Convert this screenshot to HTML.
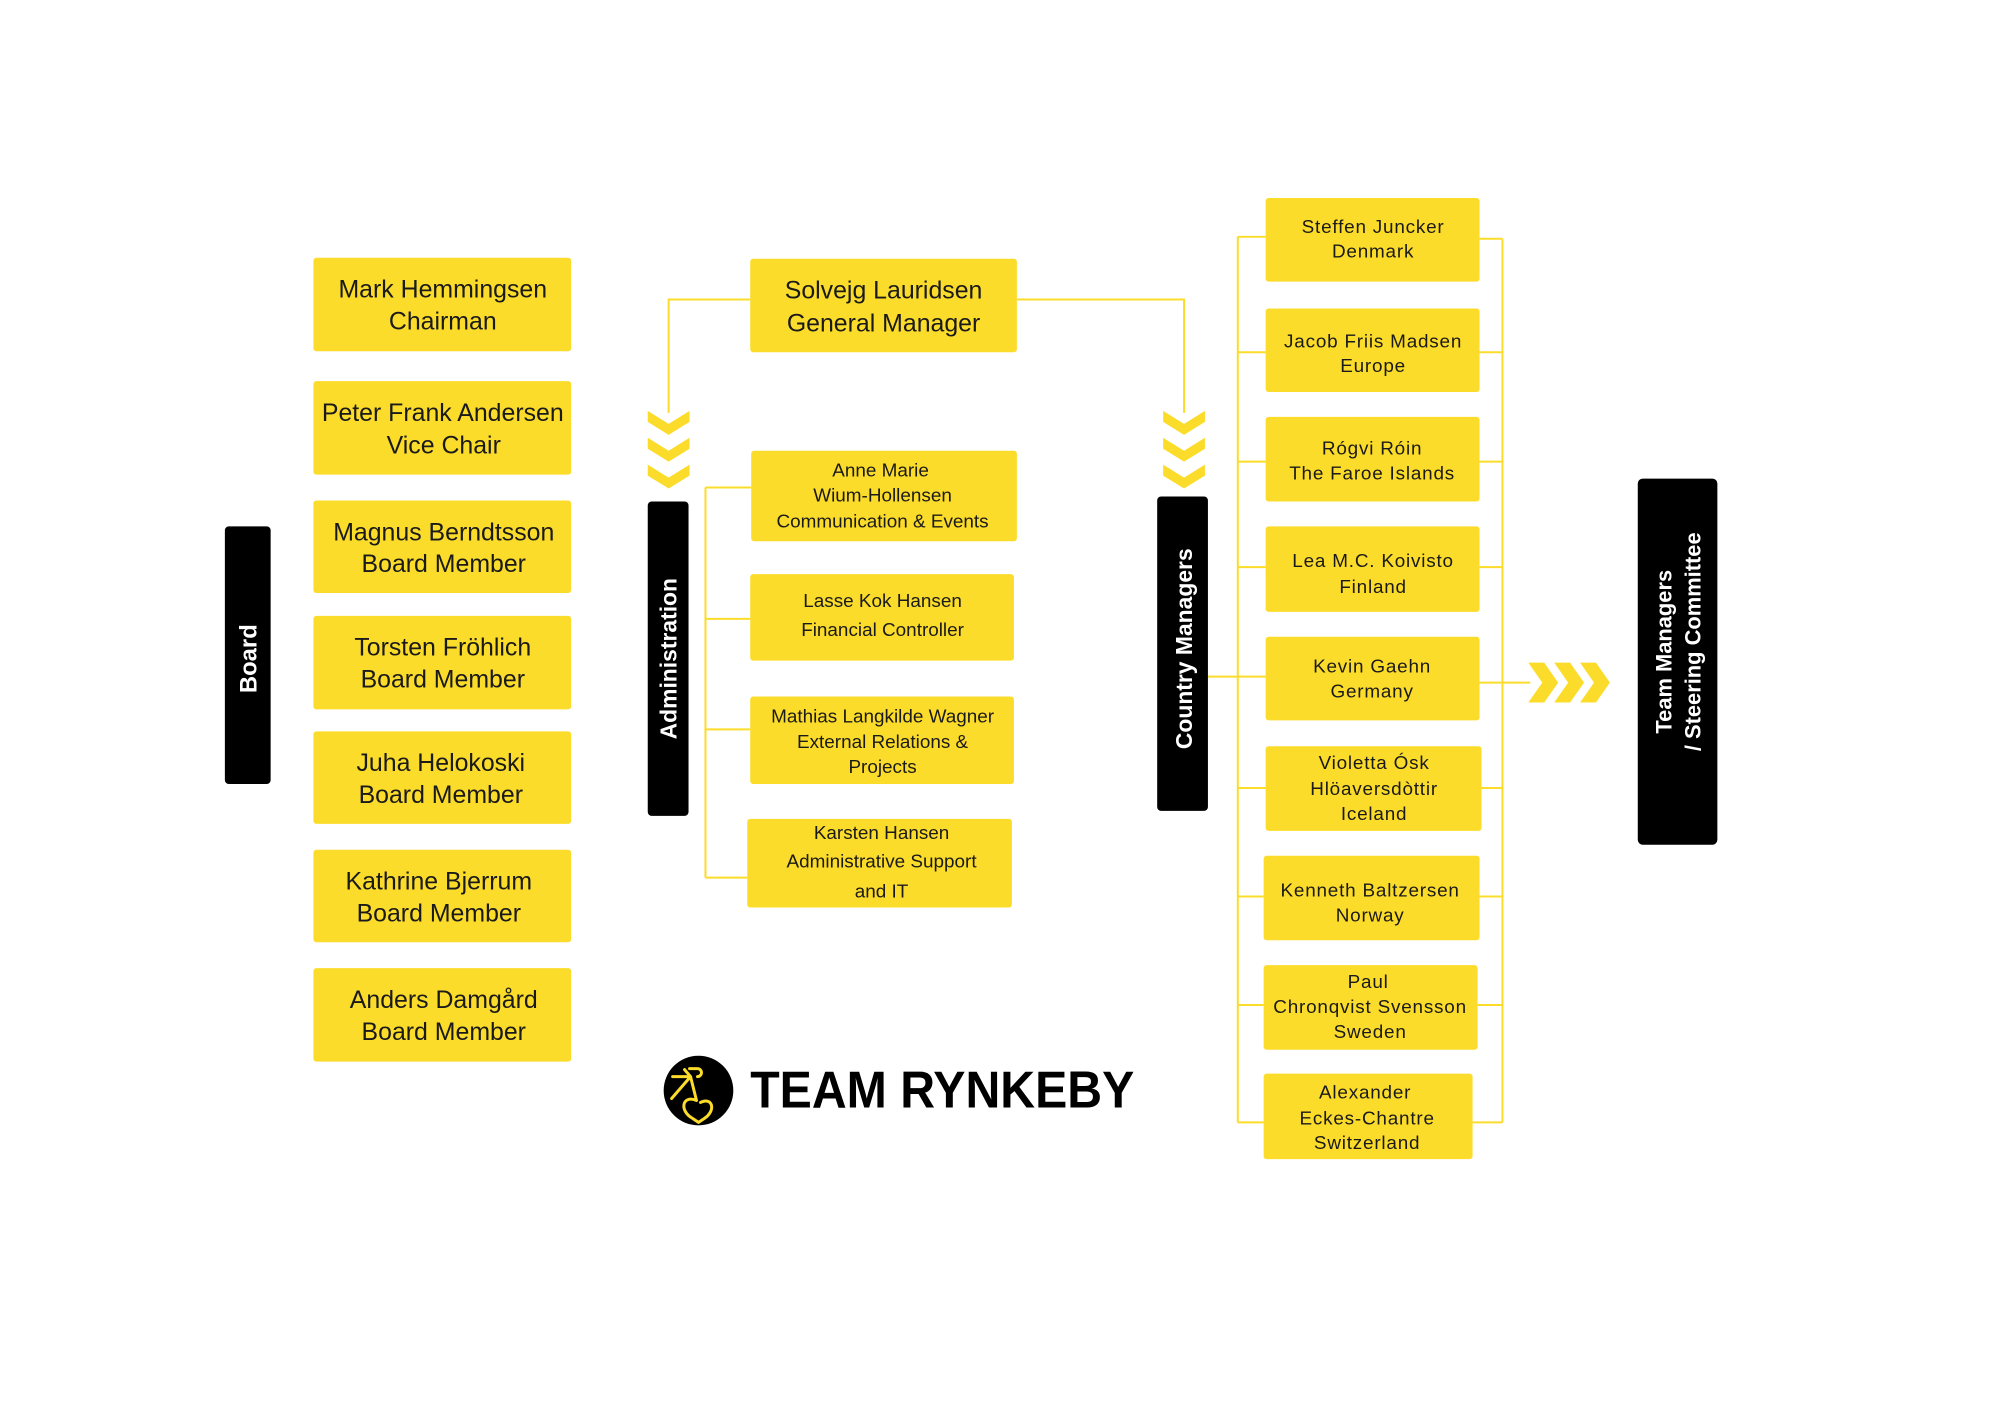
<!DOCTYPE html>
<html><head><meta charset="utf-8"><style>
html,body{margin:0;padding:0;background:#fff}
svg{display:block}
.n{font-family:"Liberation Sans",sans-serif;fill:#1a1a1a;text-anchor:middle}
</style></head><body>
<svg width="2000" height="1414" viewBox="0 0 2000 1414" xmlns="http://www.w3.org/2000/svg">
<defs>
<g id="chev"><polygon points="0,0 21,13 42,0 42,11 21,24 0,11" fill="#FCDC2A"/></g>
<g id="chevR"><polygon points="0,0 16,0 30,20 16,40 0,40 14,20" fill="#FCDC2A"/></g>
</defs>
<g transform="scale(0.995)">
<g fill="none" stroke="#FCDC2A" stroke-width="2">
<polyline points="754,301 672,301 672,415"/>
<polyline points="1022,301 1190,301 1190,415"/>
<line x1="709" y1="490" x2="709" y2="882"/>
<line x1="709" y1="490" x2="755" y2="490"/>
<line x1="709" y1="622" x2="754" y2="622"/>
<line x1="709" y1="733" x2="754" y2="733"/>
<line x1="709" y1="882" x2="751" y2="882"/>
<line x1="1214" y1="680" x2="1244" y2="680"/>
<line x1="1244" y1="238" x2="1244" y2="1128"/>
<line x1="1510" y1="240" x2="1510" y2="1128"/>
<line x1="1244" y1="238" x2="1272" y2="238"/><line x1="1487" y1="240" x2="1510" y2="240"/>
<line x1="1244" y1="354" x2="1272" y2="354"/><line x1="1487" y1="354" x2="1510" y2="354"/>
<line x1="1244" y1="464" x2="1272" y2="464"/><line x1="1487" y1="464" x2="1510" y2="464"/>
<line x1="1244" y1="570" x2="1272" y2="570"/><line x1="1487" y1="570" x2="1510" y2="570"/>
<line x1="1244" y1="680" x2="1272" y2="680"/><line x1="1487" y1="686" x2="1538" y2="686"/>
<line x1="1244" y1="792" x2="1272" y2="792"/><line x1="1487" y1="792" x2="1510" y2="792"/>
<line x1="1244" y1="901" x2="1270" y2="901"/><line x1="1487" y1="901" x2="1510" y2="901"/>
<line x1="1244" y1="1010" x2="1270" y2="1010"/><line x1="1485" y1="1010" x2="1510" y2="1010"/>
<line x1="1244" y1="1128" x2="1270" y2="1128"/><line x1="1480" y1="1128" x2="1510" y2="1128"/>
</g>
<use href="#chev" x="651" y="413"/><use href="#chev" x="651" y="440"/><use href="#chev" x="651" y="467"/>
<use href="#chev" x="1169" y="413"/><use href="#chev" x="1169" y="440"/><use href="#chev" x="1169" y="467"/>
<use href="#chevR" x="1536" y="666"/><use href="#chevR" x="1562" y="666"/><use href="#chevR" x="1588" y="666"/>
<rect x="226" y="529" width="46" height="259" rx="4" fill="#000"/>
<text transform="translate(258,662) rotate(-90)" class="n" style="fill:#fff;font-weight:bold;font-size:24px">Board</text>
<rect x="651" y="504" width="41" height="316" rx="4" fill="#000"/>
<text transform="translate(680,662) rotate(-90)" class="n" style="fill:#fff;font-weight:bold;font-size:23px">Administration</text>
<rect x="1163" y="499" width="51" height="316" rx="4" fill="#000"/>
<text transform="translate(1198,652) rotate(-90)" class="n" style="fill:#fff;font-weight:bold;font-size:23px">Country Managers</text>
<rect x="1646" y="481" width="80" height="368" rx="5" fill="#000"/>
<text transform="translate(1680,655) rotate(-90)" class="n" style="fill:#fff;font-weight:bold;font-size:22px">Team  Managers</text>
<text transform="translate(1709,645) rotate(-90)" class="n" style="fill:#fff;font-weight:bold;font-size:22px">/ Steering Committee</text>
<g fill="#FCDC2A">
<rect x="315" y="259" width="259" height="94" rx="3"/>
<rect x="315" y="383" width="259" height="94" rx="3"/>
<rect x="315" y="503" width="259" height="93" rx="3"/>
<rect x="315" y="619" width="259" height="94" rx="3"/>
<rect x="315" y="735" width="259" height="93" rx="3"/>
<rect x="315" y="854" width="259" height="93" rx="3"/>
<rect x="315" y="973" width="259" height="94" rx="3"/>
<rect x="754" y="260" width="268" height="94" rx="3"/>
<rect x="755" y="453" width="267" height="91" rx="3"/>
<rect x="754" y="577" width="265" height="87" rx="3"/>
<rect x="754" y="700" width="265" height="88" rx="3"/>
<rect x="751" y="823" width="266" height="89" rx="3"/>
<rect x="1272" y="199" width="215" height="84" rx="3"/>
<rect x="1272" y="310" width="215" height="84" rx="3"/>
<rect x="1272" y="419" width="215" height="85" rx="3"/>
<rect x="1272" y="529" width="215" height="86" rx="3"/>
<rect x="1272" y="640" width="215" height="84" rx="3"/>
<rect x="1272" y="750" width="217" height="85" rx="3"/>
<rect x="1270" y="860" width="217" height="85" rx="3"/>
<rect x="1270" y="970" width="215" height="85" rx="3"/>
<rect x="1270" y="1079" width="210" height="86" rx="3"/>
</g>
<g class="n" style="font-size:25px">
<text x="445" y="299">Mark Hemmingsen</text><text x="445" y="331">Chairman</text>
<text x="445" y="423">Peter Frank Andersen</text><text x="446" y="456">Vice Chair</text>
<text x="446" y="543">Magnus Berndtsson</text><text x="446" y="575">Board Member</text>
<text x="445" y="659">Torsten Fröhlich</text><text x="445" y="691">Board Member</text>
<text x="443" y="775">Juha Helokoski</text><text x="443" y="807">Board Member</text>
<text x="441" y="894">Kathrine Bjerrum</text><text x="441" y="926">Board Member</text>
<text x="446" y="1013">Anders Damgård</text><text x="446" y="1045">Board Member</text>
<text x="888" y="300">Solvejg Lauridsen</text><text x="888" y="333">General Manager</text>
</g>
<g class="n" style="font-size:19px">
<text x="885" y="479">Anne Marie</text><text x="887" y="504">Wium-Hollensen</text><text x="887" y="530">Communication &amp; Events</text>
<text x="887" y="610">Lasse Kok Hansen</text><text x="887" y="639">Financial Controller</text>
<text x="887" y="726">Mathias Langkilde Wagner</text><text x="887" y="752">External Relations &amp;</text><text x="887" y="777">Projects</text>
<text x="886" y="843">Karsten Hansen</text><text x="886" y="872">Administrative Support</text><text x="886" y="902">and IT</text>
</g>
<g class="n" style="font-size:19px;letter-spacing:0.8px">
<text x="1380" y="234">Steffen Juncker</text><text x="1380" y="259">Denmark</text>
<text x="1380" y="349">Jacob Friis Madsen</text><text x="1380" y="374">Europe</text>
<text x="1379" y="457">Rógvi Róin</text><text x="1379" y="482">The Faroe Islands</text>
<text x="1380" y="570">Lea M.C. Koivisto</text><text x="1380" y="596">Finland</text>
<text x="1379" y="676">Kevin Gaehn</text><text x="1379" y="701">Germany</text>
<text x="1381" y="773">Violetta Ósk</text><text x="1381" y="799">Hlöaversdòttir</text><text x="1381" y="824">Iceland</text>
<text x="1377" y="901">Kenneth Baltzersen</text><text x="1377" y="926">Norway</text>
<text x="1375" y="993">Paul</text><text x="1377" y="1018">Chronqvist Svensson</text><text x="1377" y="1043">Sweden</text>
<text x="1372" y="1104">Alexander</text><text x="1374" y="1130">Eckes-Chantre</text><text x="1374" y="1155">Switzerland</text>
</g>
<circle cx="702" cy="1096" r="35" fill="#000"/>
<g fill="none" stroke="#FCDC2A" stroke-width="3" stroke-linecap="round" stroke-linejoin="round">
<path d="M676,1082 H694 M694,1082 L675,1104 M694,1082 L688,1075 M693,1074 h8 a4,4 0 0 1 0,8 M694,1082 L700,1106 M700,1106 c-14,-6 -18,10 -4,18 l6,4 l6,-4 c12,-8 8,-22 -4,-16"/>
</g>
<text x="754" y="1113" textLength="386" lengthAdjust="spacingAndGlyphs" style="font-family:'Liberation Sans',sans-serif;font-weight:bold;font-size:52px;fill:#000">TEAM RYNKEBY</text>
</g>
</svg>
</body></html>
